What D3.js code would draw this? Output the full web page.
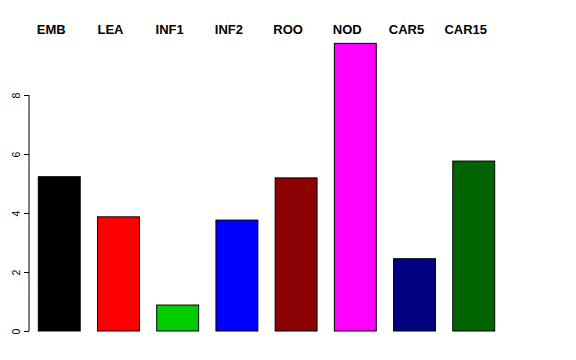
<!DOCTYPE html>
<html><head><meta charset="utf-8">
<script src="https://cdn.jsdelivr.net/npm/d3@7"></script>
<style>body{margin:0;background:#fff}svg{display:block}</style>
</head><body>
<script>
const categories = ["EMB","LEA","INF1","INF2","ROO","NOD","CAR5","CAR15"];
const values = [5.23, 3.87, 0.88, 3.76, 5.19, 9.75, 2.45, 5.76];
const colors = ["#000000","#ff0000","#00cd00","#0000ff","#8b0000","#ff00ff","#000080","#006400"];
const yTicks = [0, 2, 4, 6, 8];

const W = 576, H = 360;
const svg = d3.select("body").append("svg").attr("width", W).attr("height", H);

const x = d3.scaleBand().domain(categories).range([38.3, 494.7]).paddingInner(0.292).paddingOuter(0);
const y = d3.scaleLinear().domain([0, 8]).range([331, 95]);

svg.selectAll("rect.bar").data(categories).enter().append("rect")
  .attr("class", "bar")
  .attr("x", d => x(d))
  .attr("width", x.bandwidth())
  .attr("y", (d, i) => y(values[i]))
  .attr("height", (d, i) => y(0) - y(values[i]))
  .attr("fill", (d, i) => colors[i])
  .attr("stroke", "#000").attr("stroke-width", 1);

const yAxis = d3.axisLeft(y).tickValues(yTicks).tickSize(5).tickPadding(7).tickFormat(d3.format("d"));
const ga = svg.append("g").attr("transform", "translate(29,0)").call(yAxis);
ga.select(".domain").attr("d", `M0,${y(8)}V${y(0)}`).attr("stroke", "#000");
ga.selectAll(".tick line").attr("stroke", "#000");
ga.selectAll(".tick text")
  .attr("font-family", "Liberation Sans, Arial, sans-serif")
  .attr("font-size", 10.5)
  .attr("fill", "#000")
  .attr("x", null).attr("dy", null)
  .attr("text-anchor", "middle")
  .attr("transform", "translate(-13,0) rotate(-90)")
  .attr("dy", "0.35em");

svg.selectAll("text.lab").data(categories).enter().append("text")
  .attr("class", "lab")
  .attr("x", d => x(d) + x.bandwidth() / 2 - 8)
  .attr("y", 34)
  .attr("text-anchor", "middle")
  .attr("font-family", "Liberation Sans, Arial, sans-serif")
  .attr("font-weight", "bold")
  .attr("font-size", 13)
  .attr("fill", "#000")
  .text(d => d);
</script>
</body></html>
